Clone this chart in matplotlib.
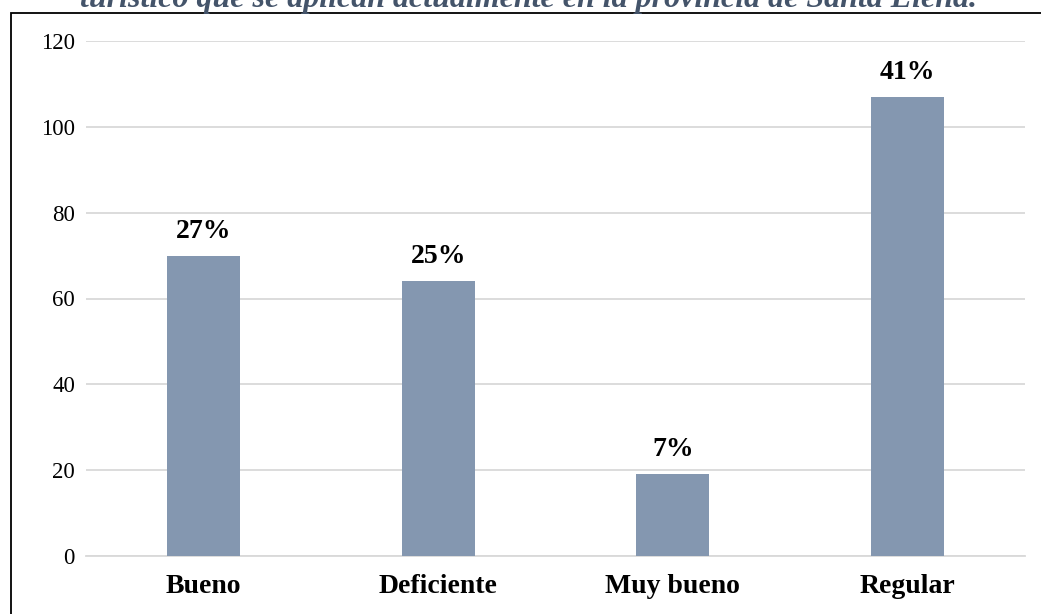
import numpy as np
import matplotlib
matplotlib.use("Agg")
import matplotlib.pyplot as plt
from matplotlib.patches import Rectangle

matplotlib.rcParams.update({"font.family": "Liberation Serif"})

categorias = ["Bueno", "Deficiente", "Muy bueno", "Regular"]
valores = [70, 64, 19, 107]
porcentajes = ["27%", "25%", "7%", "41%"]
yticks = [0, 20, 40, 60, 80, 100, 120]

W, H = 1041, 614
fig = plt.figure(figsize=(W/100, H/100), dpi=100)
ax = fig.add_axes([86/W, 1 - 556/H, (1025 - 86)/W, (556 - 41)/H])

x = np.arange(len(categorias))
ax.bar(x, valores, width=0.31, color="#8497B0", zorder=3)

for xi, v, p in zip(x, valores, porcentajes):
    ax.annotate(p, (xi, v), xytext=(0, 13), textcoords="offset points",
                ha="center", va="baseline", fontsize=20, fontweight="bold")

ax.set_xlim(-0.5, len(categorias) - 0.5)
ax.set_ylim(0, 120)
ax.set_yticks(yticks)
ax.set_xticks(x)
ax.set_xticklabels(categorias, fontsize=20, fontweight="bold")
ax.tick_params(axis="y", length=0, pad=8, labelsize=16.5)
ax.tick_params(axis="x", length=0, pad=13)
ax.yaxis.grid(True, color="#D9D9D9", lw=1.3, zorder=0)
for s in ["top", "right", "left"]:
    ax.spines[s].set_visible(False)
ax.spines["bottom"].set_color("#D9D9D9")
ax.spines["bottom"].set_linewidth(1.3)

# marco del grafico
fig.patches.append(Rectangle((11/W, -0.2), 1.2, 1 - 12.7/H + 0.2, transform=fig.transFigure,
                             fill=False, edgecolor="black", lw=1.3, clip_on=False))

# titulo (cortado arriba, como en la captura)
fig.text(528/W, 1 - 7/H, "turístico que se aplican actualmente en la provincia de Santa Elena.",
         ha="center", va="baseline", fontsize=23, fontweight="bold", style="italic",
         color="#44546A")

fig.savefig("out.png", dpi=100)
